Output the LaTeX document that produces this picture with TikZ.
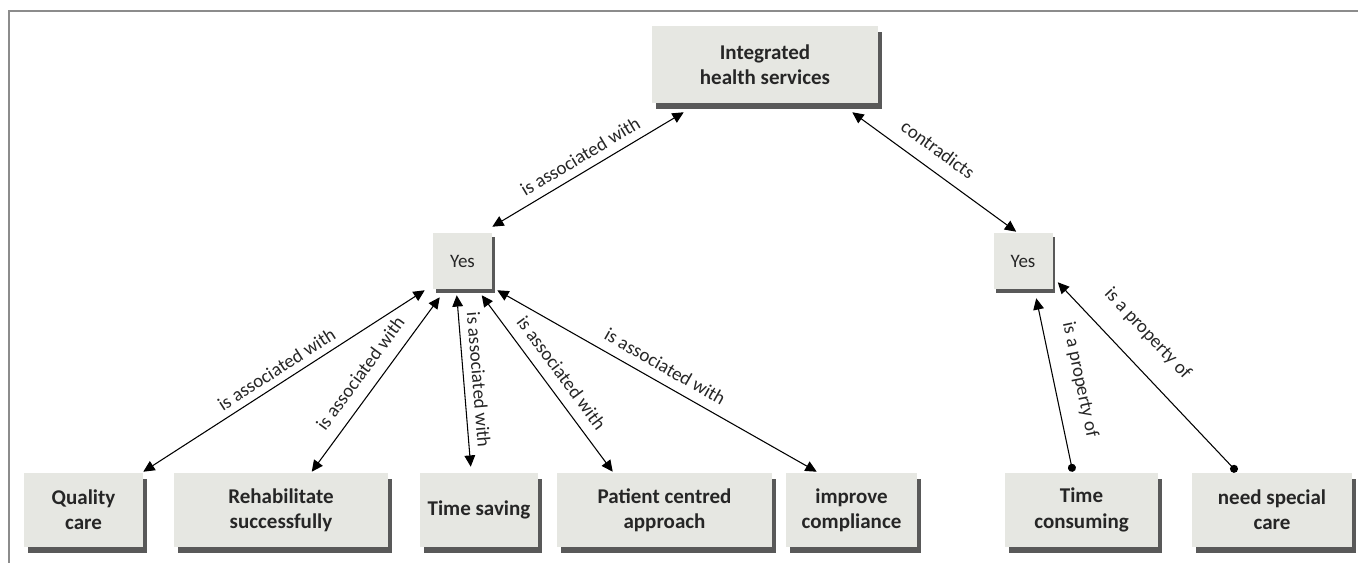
\documentclass[tikz,border=0pt]{standalone}
\usepackage{fontspec}
\setmainfont{Carlito}
\usetikzlibrary{arrows.meta, calc, shadows}
\definecolor{cfill}{HTML}{E6E7E2}
\definecolor{cshade}{HTML}{595959}
\definecolor{ctext}{HTML}{262626}
\definecolor{cframe}{HTML}{8C8C8C}
\tikzset{
  cbox/.style={fill=cfill, text=ctext, align=center, inner sep=2pt,
               minimum height=55.5pt, font=\fontsize{15.75}{18.9}\selectfont\bfseries,
               drop shadow={shadow xshift=3pt, shadow yshift=-4.5pt, fill=cshade, opacity=1}},
  ybox/.style={fill=cfill, text=ctext, inner sep=2pt,
               minimum width=44.25pt, minimum height=42pt, font=\fontsize{14.25}{17}\selectfont,
               drop shadow={shadow xshift=2pt, shadow yshift=-3pt, fill=cshade, opacity=1}},
  carr/.style={{Triangle[length=8.5pt,width=8pt]}-{Triangle[length=8.5pt,width=8pt]},
               line width=0.8pt},
  parr/.style={{Circle[length=6pt]}-{Triangle[length=8.5pt,width=8pt]}, line width=0.8pt},
  clbl/.style={font=\fontsize{14.25}{17}\selectfont, text=ctext, sloped, inner sep=1pt},
}

\begin{document}
\begin{tikzpicture}[x=0.75pt, y=-0.75pt]
\useasboundingbox (0,0) rectangle (1358,563);
\draw[cframe, line width=1.5pt] (9,563) -- (9,11) -- (1358,11);

% top and the two answers
\node[cbox, minimum width=169.5pt, minimum height=57.75pt] (ihs) at (765,64.5) {Integrated\\health services};
\node[ybox] (yesL) at (462.5,261) {Yes};
\node[ybox] (yesR) at (1023,261) {Yes};

% bottom row
\node[cbox, minimum width=89.25pt] (qc) at (83.5,510) {Quality\\care};
\node[cbox, minimum width=160.5pt] (rs) at (281,510) {Rehabilitate\\successfully};
\node[cbox, minimum width=88.5pt] (ts) at (479,510) {Time saving};
\node[cbox, minimum width=161.25pt] (pca) at (664.5,510) {Patient centred\\approach};
\node[cbox, minimum width=98.25pt] (ic) at (851.5,510) {improve\\compliance};
\node[cbox, minimum width=114.75pt] (tc) at (1081.5,510) {Time\\consuming};
\node[cbox, minimum width=120pt] (nsc) at (1272,510) {need special\\care};

\draw[carr] ($(yesL.north east)+(0,-6)$) -- node[clbl, above=5pt] {is associated with} ($(ihs.south west)+(32,9)$);
\draw[carr] ($(ihs.south east)+(-26,9)$) -- node[clbl, pos=0.45, above=9pt] {contradicts} ($(yesR.north west)+(23,-1)$);

\draw[carr] ($(yesL.south west)+(-8,1)$) -- node[clbl, above=4pt] {is associated with} ($(qc.north east)+(0,-1)$);
\draw[carr] ($(yesL.south west)+(7,8)$) -- node[clbl, above=8pt] {is associated with} ($(rs.north west)+(138,-1)$);
\draw[carr] ($(yesL.south west)+(24,6)$) -- node[clbl, above=5pt] {is associated with} ($(ts.north west)+(51,-6)$);
\draw[carr] ($(yesL.south west)+(49,6)$) -- node[clbl, above=7pt] {is associated with} ($(pca.north west)+(56,-1)$);
\draw[carr] ($(yesL.south east)+(5,1)$) -- node[clbl, above=6pt] {is associated with} ($(ic.north west)+(31,-1)$);

\draw[parr] ($(tc.north west)+(68,-1)$) -- node[clbl, above=12pt] {is a property of} ($(yesR.south west)+(43,9)$);
\draw[parr] ($(nsc.north west)+(45,-1)$) -- node[clbl, pos=0.62, above=15pt] {is a property of} ($(yesR.south east)+(5,-7)$);
\end{tikzpicture}
\end{document}
